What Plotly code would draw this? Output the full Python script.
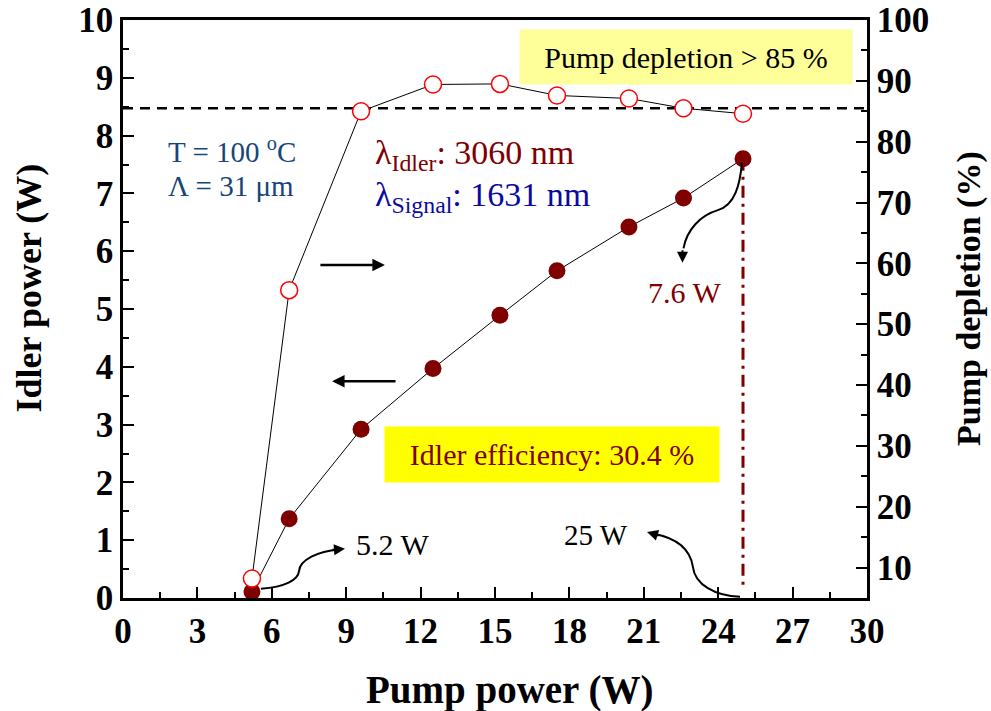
import plotly.graph_objects as go

# ---- data ----
pump_power = [5.2, 6.7, 9.6, 12.5, 15.2, 17.5, 20.4, 22.6, 25.0]
idler_power = [0.11, 1.37, 2.92, 3.97, 4.89, 5.66, 6.42, 6.92, 7.60]
pump_depletion = [8.2, 55.6, 85.0, 89.4, 89.5, 87.6, 87.1, 85.5, 84.6]
depletion_threshold = 85.5

x_ticks = list(range(0, 31, 3))
y_ticks = list(range(0, 11, 1))
y2_ticks = list(range(10, 101, 10))

SERIF = "Liberation Serif"
DARKRED = "#800000"

fig = go.Figure()

# vertical dash-dot line at max pump power
fig.add_trace(go.Scatter(
    x=[pump_power[-1], pump_power[-1]], y=[idler_power[-1], 0.2],
    mode="lines", line=dict(color=DARKRED, width=3, dash="12px,6px,3px,6px"),
    showlegend=False, hoverinfo="skip"))

# pump depletion (right axis)
fig.add_trace(go.Scatter(
    x=pump_power, y=pump_depletion, yaxis="y2", mode="lines+markers",
    line=dict(color="black", width=1),
    marker=dict(symbol="circle", size=17, color="white",
                line=dict(color="#FF0000", width=1.5)),
    showlegend=False, cliponaxis=False))

# idler power (left axis)
fig.add_trace(go.Scatter(
    x=pump_power, y=idler_power, mode="lines+markers",
    line=dict(color="black", width=1),
    marker=dict(symbol="circle", size=17, color=DARKRED, line=dict(width=0)),
    showlegend=False, cliponaxis=False))

shapes = []
# horizontal dashed threshold line
shapes.append(dict(type="line", xref="x domain", yref="y2", x0=0, x1=1,
                   y0=depletion_threshold, y1=depletion_threshold,
                   line=dict(color="black", width=2.5, dash="10px,7px"), layer="below"))

# curved arrow bodies (data coordinates)
curve_style = dict(color="black", width=2)
shapes.append(dict(type="path", xref="x", yref="y",
                   path="M 5.56,0.16 C 6.53,0.19 7.06,0.31 7.10,0.47 C 7.14,0.66 7.86,0.81 8.70,0.84",
                   line=curve_style))
shapes.append(dict(type="path", xref="x", yref="y",
                   path="M 24.88,0.02 C 23.87,0.04 23.06,0.23 22.98,0.54 C 22.86,0.87 22.26,1.04 21.40,1.11",
                   line=curve_style))
shapes.append(dict(type="path", xref="x", yref="y",
                   path="M 24.96,7.54 C 24.88,7.15 24.68,6.80 23.99,6.71 C 23.27,6.62 22.74,6.37 22.60,6.05",
                   line=curve_style))

annotations = []
# arrow heads
def head(x, y, ax, ay):
    annotations.append(dict(x=x, y=y, xref="x", yref="y", ax=ax, ay=ay,
                            text="", showarrow=True, arrowhead=2, arrowsize=1.1,
                            arrowwidth=2, arrowcolor="black"))
head(8.95, 0.85, -14, 1)
head(21.13, 1.14, 13, 4)
head(22.56, 5.80, 0, -14)

# straight arrows indicating axes
annotations.append(dict(x=10.56, y=5.76, ax=7.9, ay=5.76, xref="x", yref="y",
                        axref="x", ayref="y", text="", showarrow=True,
                        arrowhead=2, arrowsize=1, arrowwidth=2.5, arrowcolor="black"))
annotations.append(dict(x=8.43, y=3.75, ax=11.05, ay=3.75, xref="x", yref="y",
                        axref="x", ayref="y", text="", showarrow=True,
                        arrowhead=2, arrowsize=1, arrowwidth=2.5, arrowcolor="black"))

def txt(x, y, s, size, color, xanchor="center", **kw):
    d = dict(x=x, y=y, xref="x", yref="y", text=s, showarrow=False,
             font=dict(family=SERIF, size=size, color=color),
             xanchor=xanchor, yanchor="middle")
    d.update(kw)
    annotations.append(d)

txt(1.73, 7.75, "T = 100 <sup>o</sup>C", 29, "#17457A", xanchor="left")
txt(1.73, 7.13, "Λ = 31 μm", 29, "#17457A", xanchor="left")
txt(10.1, 7.66, "λ<sub>Idler</sub>: 3060 nm", 34, DARKRED, xanchor="left")
txt(10.1, 6.94, "λ<sub>Signal</sub>: 1631 nm", 34, "#0A0A9E", xanchor="left")
txt(22.7, 9.36, "Pump depletion > 85 %", 30, "black",
    bgcolor="#FFFF99", width=332, height=54, borderpad=0)
txt(17.3, 2.48, "Idler efficiency: 30.4 %", 30, DARKRED,
    bgcolor="#FFFF00", width=334, height=55, borderpad=0)
txt(22.66, 5.29, "7.6 W", 30, DARKRED)
txt(10.85, 0.92, "5.2 W", 30, "black")
txt(19.07, 1.09, "25 W", 29, "black")

# axis titles (as paper annotations for exact placement)
def title(x, y, s, size, angle=0):
    annotations.append(dict(x=x, y=y, xref="paper", yref="paper", text="<b>%s</b>" % s,
                            showarrow=False, textangle=angle,
                            font=dict(family=SERIF, size=size, color="black"),
                            xanchor="center", yanchor="middle"))
title(0.520, -0.159, "Pump power (W)", 39)
title(-0.126, 0.536, "Idler power (W)", 36, -90)
title(1.137, 0.519, "Pump depletion (%)", 34, -90)

tickfont = dict(family=SERIF, size=35, color="black", weight="bold")

fig.update_layout(
    width=991, height=711,
    margin=dict(l=123, r=124, t=20, b=113),
    paper_bgcolor="white", plot_bgcolor="white",
    shapes=shapes, annotations=annotations,
    xaxis=dict(range=[0, 30], tickvals=x_ticks, ticks="inside", ticklen=11,
               tickwidth=2, tickcolor="black", showline=True, linewidth=2.5,
               linecolor="black", mirror=True, showgrid=False, zeroline=False,
               tickfont=tickfont, automargin=False,
               minor=dict(dtick=1.5, ticks="inside", ticklen=6, tickwidth=2,
                          tickcolor="black")),
    yaxis=dict(range=[0, 10], tickvals=y_ticks, ticks="inside", ticklen=11,
               tickwidth=2, tickcolor="black", showline=True, linewidth=2.5,
               linecolor="black", showgrid=False, zeroline=False,
               tickfont=tickfont, automargin=False,
               minor=dict(dtick=0.5, ticks="inside", ticklen=6, tickwidth=2,
                          tickcolor="black")),
    yaxis2=dict(range=[5, 100], tickvals=y2_ticks, overlaying="y", side="right",
                ticks="inside", ticklen=11, tickwidth=2, tickcolor="black",
                showline=True, linewidth=2.5, linecolor="black", showgrid=False,
                zeroline=False, tickfont=tickfont, automargin=False,
                minor=dict(tick0=5, dtick=5, ticks="inside", ticklen=6, tickwidth=2,
                           tickcolor="black")),
)

fig.write_html("out.html")
